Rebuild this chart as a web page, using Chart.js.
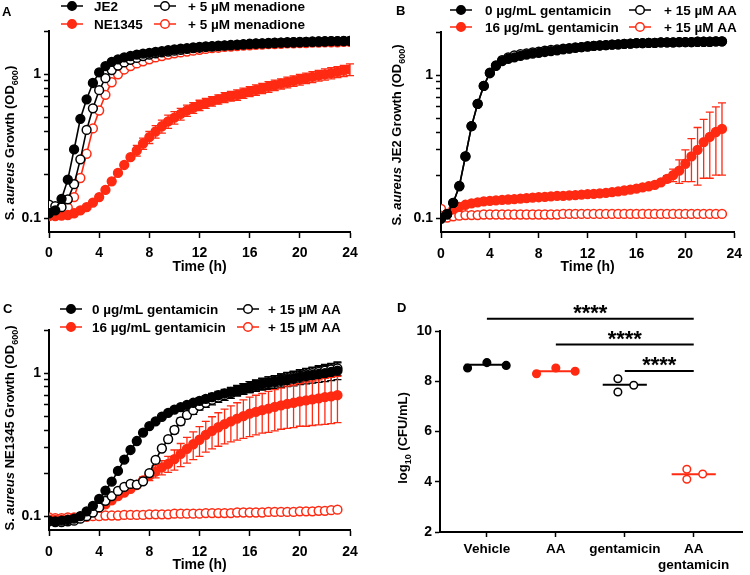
<!DOCTYPE html>
<html lang="en">
<head>
<meta charset="UTF-8">
<title>S. aureus growth and CFU</title>
<script src="https://cdn.jsdelivr.net/npm/chart.js"></script>
<style>
  body { margin: 0; background: #fff; font-family: 'Liberation Sans', Arial, sans-serif; }
  #fig { position: relative; width: 750px; height: 575px; overflow: hidden; }
  .panel { position: absolute; }
  .letter { position: absolute; font-weight: bold; font-size: 13px; line-height: 13px; }
  .ytitle { position: absolute; font-weight: bold; font-size: 13px; line-height: 14px; white-space: nowrap;
            transform: translate(-50%, -50%) rotate(-90deg); }
  .ytitle sub { font-size: 9px; line-height: 0; }
</style>
</head>
<body>
<div id="fig">
  <canvas class="panel" id="chartA" width="375" height="287" style="left:0;top:0"></canvas>
  <canvas class="panel" id="chartB" width="375" height="287" style="left:375px;top:0"></canvas>
  <canvas class="panel" id="chartC" width="375" height="288" style="left:0;top:287px"></canvas>
  <canvas class="panel" id="chartD" width="375" height="288" style="left:375px;top:287px"></canvas>

  <div class="letter" style="left:2px;top:5px">A</div>
  <div class="letter" style="left:396px;top:4px">B</div>
  <div class="letter" style="left:3px;top:302px">C</div>
  <div class="letter" style="left:397px;top:301px">D</div>

  <div class="ytitle" style="left:10px;top:143px">S. <i>aureus</i> Growth (OD<sub>600</sub>)</div>
  <div class="ytitle" style="left:397px;top:135px">S. <i>aureus</i> JE2 Growth (OD<sub>600</sub>)</div>
  <div class="ytitle" style="left:10px;top:428px">S. <i>aureus</i> NE1345 Growth (OD<sub>600</sub>)</div>
  <div class="ytitle" style="left:403px;top:438px">log<sub>10</sub> (CFU/mL)</div>
</div>
<script>
const RED = '#ff2a12';
const BLACK = '#000000';
const FONT = "'Liberation Sans', Arial, sans-serif";

// time points (h)
const timeA = [0,0.5,1,1.5,2,2.5,3,3.5,4,4.5,5,5.5,6,6.5,7,7.5,8,8.5,9,9.5,10,10.5,11,11.5,12,
               12.5,13,13.5,14,14.5,15,15.5,16,16.5,17,17.5,18,18.5,19,19.5,20,20.5,21,21.5,22,22.5,23,23.5,24];
const timeBC = [0,0.5,1,1.5,2,2.5,3,3.5,4,4.5,5,5.5,6,6.5,7,7.5,8,8.5,9,9.5,10,10.5,11,11.5,12,
                12.5,13,13.5,14,14.5,15,15.5,16,16.5,17,17.5,18,18.5,19,19.5,20,20.5,21,21.5,22,22.5,23];

// axis ticks
const xTicksTime = [0, 4, 8, 12, 16, 20, 24];
const yTicksLog = [0.1, 0.2, 0.3, 0.4, 0.5, 0.6, 0.7, 0.8, 0.9, 1, 2];
const yLabelsLog = [0.1, 1];

// Panel A: OD600
const je2A = [0.108,0.113,0.136,0.185,0.30,0.49,0.67,0.87,1.03,1.14,
              1.22,1.27,1.31,1.34,1.37,1.39,1.41,1.43,1.45,1.47,
              1.49,1.51,1.52,1.54,1.55,1.56,1.57,1.58,1.59,1.60,
              1.61,1.62,1.63,1.64,1.64,1.65,1.66,1.66,1.67,1.67,
              1.68,1.68,1.69,1.69,1.70,1.70,1.70,1.71,1.71];
const je2MenA = [0.124,0.121,0.119,0.135,0.172,0.256,0.41,0.58,0.775,0.94,
                 1.07,1.15,1.21,1.26,1.30,1.34,1.37,1.40,1.42,1.44,
                 1.46,1.48,1.50,1.52,1.53,1.55,1.56,1.57,1.58,1.59,
                 1.60,1.61,1.62,1.63,1.64,1.64,1.65,1.66,1.66,1.67,
                 1.67,1.68,1.68,1.69,1.69,1.70,1.70,1.70,1.71];
const ne1345A = [0.103,0.103,0.104,0.105,0.108,0.113,0.119,0.128,0.140,0.157,
                 0.180,0.206,0.234,0.265,0.295,0.330,0.365,0.400,0.435,0.470,
                 0.500,0.530,0.560,0.585,0.610,0.630,0.650,0.670,0.690,0.705,
                 0.720,0.740,0.760,0.780,0.800,0.820,0.840,0.860,0.880,0.900,
                 0.920,0.940,0.960,0.980,1.000,1.020,1.040,1.060,1.080];
const ne1345ErrA = [0,0,0,0,0,0,0,0,0,0,
                    0,0,0,0,0.025,0.03,0.035,0.04,0.045,0.05,
                    0.05,0.05,0.05,0.05,0.05,0.05,0.05,0.05,0.055,0.055,
                    0.06,0.06,0.06,0.065,0.065,0.07,0.07,0.07,0.075,0.075,
                    0.08,0.08,0.085,0.085,0.09,0.09,0.09,0.095,0.10];
const ne1345MenA = [0.106,0.105,0.108,0.118,0.140,0.190,0.280,0.420,0.560,0.720,
                    0.880,1.000,1.080,1.140,1.190,1.230,1.270,1.310,1.340,1.370,
                    1.400,1.420,1.440,1.460,1.480,1.500,1.520,1.530,1.550,1.560,
                    1.570,1.580,1.590,1.600,1.610,1.620,1.620,1.630,1.640,1.640,
                    1.650,1.650,1.660,1.660,1.670,1.670,1.670,1.680,1.680];

// Panel B: JE2 OD600
const gent0B = [0.099,0.106,0.128,0.167,0.270,0.440,0.630,0.840,1.030,1.160,
                1.250,1.300,1.330,1.360,1.390,1.410,1.430,1.450,1.470,1.490,
                1.510,1.530,1.550,1.570,1.580,1.600,1.610,1.620,1.630,1.640,
                1.650,1.660,1.670,1.670,1.680,1.680,1.690,1.690,1.690,1.700,
                1.700,1.700,1.710,1.710,1.710,1.720,1.720];
const aaB = [0.100,0.107,0.128,0.168,0.270,0.440,0.630,0.840,1.040,1.170,
             1.270,1.330,1.370,1.400,1.420,1.440,1.460,1.480,1.500,1.510,
             1.530,1.540,1.560,1.570,1.590,1.600,1.610,1.620,1.630,1.640,
             1.650,1.660,1.670,1.670,1.680,1.680,1.690,1.690,1.690,1.700,
             1.700,1.700,1.710,1.710,1.710,1.720,1.720];
const gent16B = [0.104,0.107,0.115,0.120,0.124,0.127,0.129,0.131,0.132,0.133,
                 0.134,0.135,0.136,0.137,0.138,0.139,0.140,0.141,0.142,0.143,
                 0.143,0.144,0.145,0.146,0.147,0.148,0.149,0.150,0.152,0.154,
                 0.156,0.158,0.161,0.164,0.167,0.171,0.178,0.188,0.200,0.215,
                 0.240,0.270,0.300,0.340,0.370,0.400,0.420];
const gent16ErrB = [0,0,0,0,0,0,0,0,0,0,
                    0,0,0,0,0,0,0,0,0,0,
                    0,0,0,0,0,0,0,0,0,0,
                    0,0,0,0,0,0,0,0.01,0.02,0.04,
                    0.06,0.09,0.13,0.15,0.18,0.20,0.22];
const aaGentB = [0.116,0.101,0.103,0.104,0.105,0.105,0.105,0.106,0.106,0.106,
                 0.106,0.106,0.106,0.106,0.106,0.106,0.106,0.106,0.106,0.106,
                 0.107,0.107,0.107,0.107,0.107,0.107,0.107,0.107,0.107,0.107,
                 0.107,0.107,0.107,0.107,0.107,0.107,0.107,0.107,0.107,0.107,
                 0.107,0.107,0.107,0.107,0.107,0.107,0.107];

// Panel C: NE1345 OD600
const gent0C = [0.093,0.092,0.093,0.094,0.096,0.100,0.108,0.118,0.132,0.151,
                0.174,0.207,0.248,0.290,0.335,0.383,0.426,0.460,0.495,0.527,
                0.556,0.578,0.600,0.620,0.640,0.660,0.680,0.700,0.720,0.740,
                0.760,0.780,0.800,0.820,0.840,0.855,0.870,0.890,0.905,0.920,
                0.940,0.955,0.970,0.985,1.000,1.020,1.040];
const gent0ErrC = [0,0,0,0,0,0,0,0,0,0,
                   0,0,0,0,0,0,0,0,0,0,
                   0,0.015,0.02,0.025,0.03,0.035,0.04,0.045,0.05,0.055,
                   0.06,0.065,0.07,0.075,0.08,0.085,0.09,0.095,0.10,0.105,
                   0.11,0.115,0.12,0.125,0.13,0.135,0.14];
const aaC = [0.092,0.091,0.091,0.092,0.093,0.096,0.100,0.106,0.115,0.128,
             0.138,0.150,0.160,0.168,0.166,0.175,0.200,0.247,0.297,0.345,
             0.400,0.460,0.510,0.550,0.590,0.620,0.650,0.675,0.700,0.725,
             0.750,0.775,0.800,0.820,0.840,0.860,0.880,0.900,0.920,0.940,
             0.960,0.980,1.000,1.020,1.040,1.060,1.080];
const aaErrC = [0,0,0,0,0,0,0,0,0,0,
                0,0,0,0,0,0,0,0,0.01,0.015,
                0.02,0.025,0.03,0.035,0.04,0.045,0.05,0.05,0.055,0.06,
                0.06,0.065,0.07,0.07,0.075,0.08,0.08,0.085,0.09,0.09,
                0.095,0.10,0.10,0.105,0.11,0.11,0.115];
const gent16C = [0.095,0.094,0.094,0.095,0.096,0.098,0.102,0.108,0.115,0.121,
                 0.129,0.138,0.146,0.155,0.165,0.178,0.192,0.205,0.219,0.232,
                 0.250,0.272,0.295,0.318,0.342,0.370,0.395,0.418,0.440,0.460,
                 0.480,0.500,0.520,0.535,0.550,0.565,0.580,0.595,0.610,0.620,
                 0.635,0.645,0.655,0.665,0.678,0.688,0.700];
const gent16ErrC = [0,0,0,0,0,0,0,0,0,0,
                    0,0,0,0,0,0.01,0.015,0.02,0.025,0.03,
                    0.04,0.05,0.06,0.07,0.08,0.09,0.10,0.11,0.12,0.13,
                    0.14,0.15,0.16,0.165,0.17,0.18,0.185,0.19,0.20,0.205,
                    0.21,0.22,0.225,0.23,0.24,0.245,0.25];
const aaGentC = [0.098,0.097,0.097,0.098,0.098,0.099,0.099,0.100,0.100,0.101,
                 0.101,0.101,0.102,0.102,0.102,0.102,0.103,0.103,0.103,0.103,
                 0.104,0.104,0.104,0.104,0.104,0.105,0.105,0.105,0.105,0.105,
                 0.106,0.106,0.106,0.106,0.106,0.107,0.107,0.107,0.107,0.107,
                 0.108,0.108,0.108,0.109,0.109,0.110,0.111];

// Panel D: log10 CFU/mL
const dCategories = ['Vehicle', 'AA', 'gentamicin', ['AA', 'gentamicin']];
const dTicksY = [2, 4, 6, 8, 10];
const vehicleD = [8.53, 8.74, 8.63];
const aaD = [8.30, 8.53, 8.40];
const gentD = [8.10, 7.57, 7.84];
const aaGentD = [4.50, 4.10, 4.31];
const dMeans = [8.66, 8.40, 7.86, 4.30];
const dJitterWide = [-0.28, 0, 0.28];
const dJitterTight = [-0.1, -0.1, 0.13];
const sigPairs = [[0, 3], [1, 3], [2, 3]];
const sigHeights = [10.49, 9.46, 8.41];
const sigLabels = ['****', '****', '****'];

// error bars drawn from dataset.errorBars through the chart scales
const errorBarPlugin = {
  id: 'errorBars',
  beforeDatasetsDraw(chart) {
    const ctx = chart.ctx;
    const xs = chart.scales.x, ys = chart.scales.y;
    chart.data.datasets.forEach(ds => {
      if (!ds.errorBars) return;
      ctx.save();
      ctx.strokeStyle = ds.borderColor;
      ctx.lineWidth = 1.3;
      ds.data.forEach((p, i) => {
        const e = ds.errorBars[i];
        if (!e) return;
        const px = xs.getPixelForValue(p.x);
        const top = ys.getPixelForValue(p.y + e);
        const bot = ys.getPixelForValue(Math.max(p.y - e, 0.001));
        ctx.beginPath();
        ctx.moveTo(px, top); ctx.lineTo(px, bot);
        ctx.moveTo(px - 4, top); ctx.lineTo(px + 4, top);
        ctx.moveTo(px - 4, bot); ctx.lineTo(px + 4, bot);
        ctx.stroke();
      });
      ctx.restore();
    });
  }
};

function legendPlugin(items) {
  return {
    id: 'gridLegend',
    afterDraw(chart) {
      const ctx = chart.ctx;
      ctx.save();
      ctx.font = 'bold 13.5px ' + FONT;
      ctx.textBaseline = 'middle';
      ctx.lineWidth = 1.5;
      items.forEach(it => {
        ctx.strokeStyle = it.color;
        ctx.beginPath();
        ctx.moveTo(it.x - 11, it.y); ctx.lineTo(it.x + 11, it.y);
        ctx.stroke();
        ctx.beginPath();
        ctx.arc(it.x, it.y, 4.3, 0, Math.PI * 2);
        ctx.fillStyle = it.filled ? it.color : '#fff';
        ctx.fill();
        ctx.stroke();
        ctx.fillStyle = '#000';
        ctx.fillText(it.label, it.tx, it.y + 1);
      });
      ctx.restore();
    }
  };
}

function series(label, times, values, color, filled, err) {
  return {
    label: label,
    data: times.map((t, i) => ({ x: t, y: values[i] })),
    borderColor: color,
    backgroundColor: color,
    pointBackgroundColor: filled ? color : '#fff',
    pointBorderColor: color,
    pointRadius: 4.4,
    pointBorderWidth: 1.5,
    borderWidth: 1.6,
    tension: 0,
    errorBars: err || null
  };
}

const tickFont = { family: FONT, size: 14, weight: 'bold' };

function growthChart(id, datasets, legendItems, box) {
  return new Chart(document.getElementById(id), {
    type: 'line',
    data: { datasets: datasets },
    options: {
      responsive: false,
      animation: false,
      layout: { padding: { left: 0, top: box.top, right: box.right, bottom: 0 } },
      plugins: { legend: { display: false }, tooltip: { enabled: false } },
      scales: {
        x: {
          type: 'linear', min: 0, max: 24, bounds: 'data',
          afterBuildTicks: s => { s.ticks = xTicksTime.map(v => ({ value: v })); },
          afterFit: s => { s.height = box.xh; },
          ticks: { color: '#000', font: tickFont, padding: box.xpad, maxRotation: 0, autoSkip: false },
          grid: { drawOnChartArea: false, tickLength: 6, tickWidth: 1.5, tickColor: '#000' },
          border: { color: '#000', width: 2 },
          title: { display: true, text: 'Time (h)', color: '#000', font: tickFont,
                   padding: { top: 0, bottom: box.tpad } }
        },
        y: {
          type: 'logarithmic', min: 0.08, max: 2, bounds: 'data',
          afterBuildTicks: s => { s.ticks = yTicksLog.map(v => ({ value: v })); },
          afterFit: s => { s.width = box.left; },
          ticks: { color: '#000', font: tickFont, padding: 3, autoSkip: false,
                   callback: v => yLabelsLog.includes(v) ? String(v) : '' },
          grid: { drawOnChartArea: false, tickLength: 5, tickWidth: 1.5, tickColor: '#000' },
          border: { color: '#000', width: 2 }
        }
      }
    },
    plugins: [errorBarPlugin, legendPlugin(legendItems)]
  });
}

// Panel A
growthChart('chartA', [
  series('JE2', timeA, je2A, BLACK, true),
  series('+ 5 µM menadione', timeA, je2MenA, BLACK, false),
  series('NE1345', timeA, ne1345A, RED, true, ne1345ErrA),
  series('+ 5 µM menadione', timeA, ne1345MenA, RED, false)
], [
  { label: 'JE2', color: BLACK, filled: true, x: 72, y: 6, tx: 94 },
  { label: 'NE1345', color: RED, filled: true, x: 72, y: 24, tx: 94 },
  { label: '+ 5 µM menadione', color: BLACK, filled: false, x: 165, y: 6, tx: 188 },
  { label: '+ 5 µM menadione', color: RED, filled: false, x: 165, y: 24, tx: 188 }
], { left: 49, top: 31, right: 25, xh: 55, xpad: 7, tpad: 11 });

// Panel B
growthChart('chartB', [
  series('0 µg/mL gentamicin', timeBC, gent0B, BLACK, true),
  series('+ 15 µM AA', timeBC, aaB, BLACK, false),
  series('16 µg/mL gentamicin', timeBC, gent16B, RED, true, gent16ErrB),
  series('+ 15 µM AA', timeBC, aaGentB, RED, false)
], [
  { label: '0 µg/mL gentamicin', color: BLACK, filled: true, x: 86, y: 10, tx: 110 },
  { label: '16 µg/mL gentamicin', color: RED, filled: true, x: 86, y: 27, tx: 110 },
  { label: '+ 15 µM AA', color: BLACK, filled: false, x: 265, y: 10, tx: 289 },
  { label: '+ 15 µM AA', color: RED, filled: false, x: 265, y: 27, tx: 289 }
], { left: 66, top: 32, right: 8, xh: 55, xpad: 8, tpad: 11 });

// Panel C
growthChart('chartC', [
  series('0 µg/mL gentamicin', timeBC, gent0C, BLACK, true, gent0ErrC),
  series('+ 15 µM AA', timeBC, aaC, BLACK, false, aaErrC),
  series('16 µg/mL gentamicin', timeBC, gent16C, RED, true, gent16ErrC),
  series('+ 15 µM AA', timeBC, aaGentC, RED, false)
], [
  { label: '0 µg/mL gentamicin', color: BLACK, filled: true, x: 71, y: 22, tx: 92 },
  { label: '16 µg/mL gentamicin', color: RED, filled: true, x: 71, y: 40, tx: 92 },
  { label: '+ 15 µM AA', color: BLACK, filled: false, x: 248, y: 22, tx: 268 },
  { label: '+ 15 µM AA', color: RED, filled: false, x: 248, y: 40, tx: 268 }
], { left: 49, top: 43, right: 25, xh: 45, xpad: 8, tpad: 1 });

// Panel D
function dotSet(values, center, jitter, color, filled) {
  return {
    type: 'scatter',
    data: values.map((v, i) => ({ x: center + jitter[i], y: v })),
    borderColor: color,
    backgroundColor: filled ? color : '#fff',
    pointRadius: 3.8,
    pointBorderWidth: 1.5,
    order: 0
  };
}
function meanSet(i, color) {
  return {
    type: 'line',
    data: [{ x: i - 0.32, y: dMeans[i] }, { x: i + 0.32, y: dMeans[i] }],
    borderColor: color,
    borderWidth: 2,
    pointRadius: 0,
    order: 1
  };
}

const sigPlugin = {
  id: 'sigBars',
  afterDatasetsDraw(chart) {
    const ctx = chart.ctx, xs = chart.scales.x, ys = chart.scales.y;
    ctx.save();
    ctx.strokeStyle = '#000';
    ctx.fillStyle = '#000';
    ctx.lineWidth = 2;
    ctx.font = 'bold 22px ' + FONT;
    ctx.textAlign = 'center';
    ctx.textBaseline = 'alphabetic';
    sigPairs.forEach((pair, i) => {
      const x1 = xs.getPixelForValue(pair[0]);
      const x2 = xs.getPixelForValue(pair[1]);
      const y = ys.getPixelForValue(sigHeights[i]);
      ctx.beginPath();
      ctx.moveTo(x1, y); ctx.lineTo(x2, y);
      ctx.stroke();
      ctx.fillText(sigLabels[i], (x1 + x2) / 2, y + 1);
    });
    ctx.restore();
  }
};

new Chart(document.getElementById('chartD'), {
  type: 'scatter',
  data: {
    datasets: [
      dotSet(vehicleD, 0, dJitterWide, BLACK, true),
      dotSet(aaD, 1, dJitterWide, RED, true),
      dotSet(gentD, 2, dJitterTight, BLACK, false),
      dotSet(aaGentD, 3, dJitterTight, RED, false),
      meanSet(0, BLACK), meanSet(1, RED), meanSet(2, BLACK), meanSet(3, RED)
    ]
  },
  options: {
    responsive: false,
    animation: false,
    layout: { padding: { left: 0, top: 44, right: 8, bottom: 0 } },
    plugins: { legend: { display: false }, tooltip: { enabled: false } },
    scales: {
      x: {
        type: 'linear', min: -0.68, max: 3.7, bounds: 'data',
        afterBuildTicks: s => { s.ticks = dCategories.map((c, i) => ({ value: i })); },
        afterFit: s => { s.height = 43; },
        ticks: { color: '#000', font: { family: FONT, size: 13.5, weight: 'bold', lineHeight: 1.22 },
                 padding: 4, maxRotation: 0, autoSkip: false,
                 callback: v => dCategories[v] },
        grid: { drawOnChartArea: false, tickLength: 5, tickWidth: 1.5, tickColor: '#000' },
        border: { color: '#000', width: 2 }
      },
      y: {
        type: 'linear', min: 2, max: 10, bounds: 'data',
        afterBuildTicks: s => { s.ticks = dTicksY.map(v => ({ value: v })); },
        afterFit: s => { s.width = 65; },
        ticks: { color: '#000', font: tickFont, padding: 3 },
        grid: { drawOnChartArea: false, tickLength: 5, tickWidth: 1.5, tickColor: '#000' },
        border: { color: '#000', width: 2 }
      }
    }
  },
  plugins: [sigPlugin]
});
</script>
</body>
</html>
